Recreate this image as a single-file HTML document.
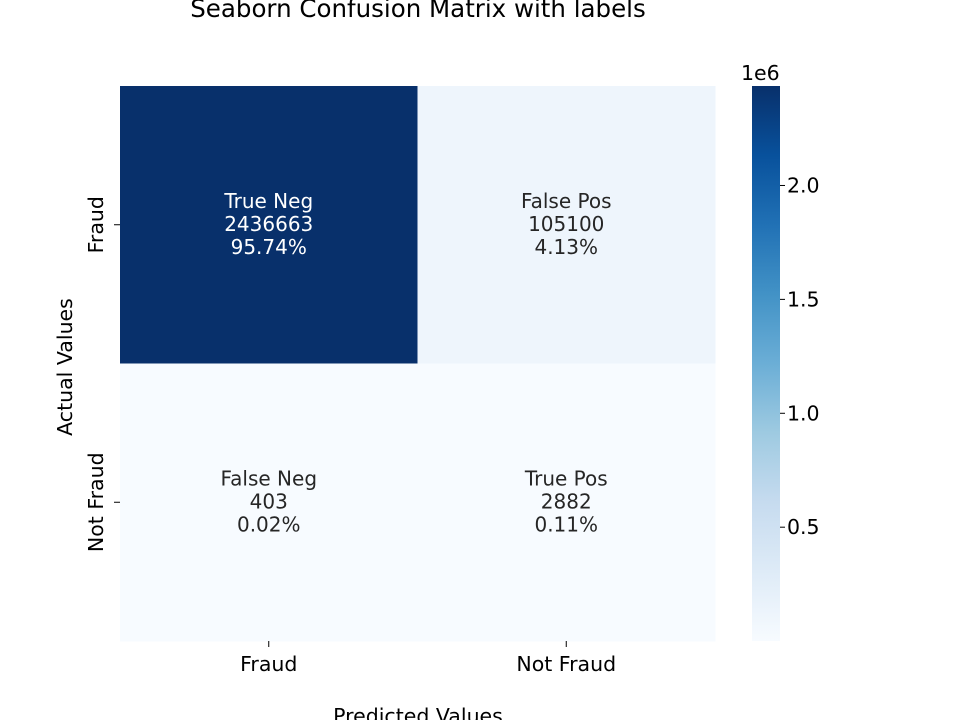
<!DOCTYPE html>
<html><head><meta charset="utf-8"><style>
html,body{margin:0;padding:0;background:#fff;}
svg text{font-family:"DejaVu Sans","Liberation Sans",sans-serif;}
</style></head><body>
<svg id="chart" width="960" height="720" xmlns="http://www.w3.org/2000/svg">
<defs><linearGradient id="blues" x1="0" y1="1" x2="0" y2="0">
<stop offset="0" stop-color="#f7fbff"/><stop offset="0.125" stop-color="#deebf7"/><stop offset="0.25" stop-color="#c6dbef"/><stop offset="0.375" stop-color="#9ecae1"/><stop offset="0.5" stop-color="#6baed6"/><stop offset="0.625" stop-color="#4292c6"/><stop offset="0.75" stop-color="#2171b5"/><stop offset="0.875" stop-color="#08519c"/><stop offset="1" stop-color="#08306b"/>
</linearGradient></defs>
<text x="418" y="17" font-size="24.5" text-anchor="middle" fill="#000">Seaborn Confusion Matrix with labels</text>
<g id="cells"></g>
<g id="axes"></g>
<rect x="752" y="86" width="28" height="555" fill="url(#blues)"/>
<text x="741" y="80" font-size="20.5" fill="#000">1e6</text>
<text x="418" y="723" font-size="20.5" text-anchor="middle" fill="#000">Predicted Values</text>
<text transform="translate(72,367) rotate(-90)" font-size="20.5" text-anchor="middle" fill="#000">Actual Values</text>
</svg>
<script>
const labels = ["Fraud", "Not Fraud"];
const cellNames = [["True Neg","False Pos"],["False Neg","True Pos"]];
const counts = [[2436663,105100],[403,2882]];
const cbTicks = [0.5,1.0,1.5,2.0];
const NS="http://www.w3.org/2000/svg";
const cg=document.getElementById('cells'), ag=document.getElementById('axes');
const X0=120,X1=715,Y0=86,Y1=641;
const total=counts.flat().reduce((a,b)=>a+b,0);
const vmin=Math.min(...counts.flat()), vmax=Math.max(...counts.flat());
const stops=[[0,[247,251,255]],[0.125,[222,235,247]],[0.25,[198,219,239]],[0.375,[158,202,225]],[0.5,[107,174,214]],[0.625,[66,146,198]],[0.75,[33,113,181]],[0.875,[8,81,156]],[1,[8,48,107]]];
function color(v){let t=(v-vmin)/(vmax-vmin);for(let i=1;i<stops.length;i++){if(t<=stops[i][0]){const a=stops[i-1],b=stops[i];const f=(t-a[0])/(b[0]-a[0]);const c=a[1].map((x,k)=>Math.round(x+(b[1][k]-x)*f));return `rgb(${c})`;}}return 'rgb(8,48,107)';}
function el(tag,attrs,parent){const e=document.createElementNS(NS,tag);for(const k in attrs)e.setAttribute(k,attrs[k]);parent.appendChild(e);return e;}
const n=labels.length, cw=(X1-X0)/n, ch=(Y1-Y0)/n;
for(let r=0;r<n;r++)for(let c=0;c<n;c++){
  const v=counts[r][c];
  const rect=el('rect',{x:X0+c*cw,y:Y0+r*ch,width:cw+0.5,height:ch+0.5,fill:color(v)},cg);
  
  
  const t=(v-vmin)/(vmax-vmin);
  const fill=t>0.5?'#fff':'#262626';
  const lines=[cellNames[r][c],String(v),(v/total*100).toFixed(2)+'%'];
  const cx=X0+(c+0.5)*cw, cy=Y0+(r+0.5)*ch;
  lines.forEach((s,i)=>{const tx=el('text',{x:cx,y:cy-24+i*23+7,'font-size':'20','text-anchor':'middle',fill:fill},cg);tx.textContent=s;
    
    });
}
labels.forEach((l,i)=>{
  const x=X0+(i+0.5)*cw, y=Y0+(i+0.5)*ch;
  el('line',{x1:x,x2:x,y1:Y1,y2:Y1+6,stroke:'#000','stroke-width':1},ag);
  const tx=el('text',{x:x,y:Y1+30,'font-size':'20.5','text-anchor':'middle',fill:'#000'},ag);tx.textContent=l;
  
  
  el('line',{x1:X0-6,x2:X0,y1:y,y2:y,stroke:'#000','stroke-width':1},ag);
  const ty=el('text',{transform:`translate(${X0-17},${y}) rotate(-90)`,'font-size':'20.5','text-anchor':'middle',fill:'#000'},ag);ty.textContent=l;
  
  
});
cbTicks.forEach(v=>{
  const y=Y1-(v*1e6-vmin)/(vmax-vmin)*(Y1-Y0);
  el('line',{x1:780,x2:785,y1:y,y2:y,stroke:'#000','stroke-width':1},ag);
  const t=el('text',{x:787,y:y+7,'font-size':'20.5',fill:'#000'},ag);t.textContent=v.toFixed(1);
  
  
});
</script>
</body></html>
